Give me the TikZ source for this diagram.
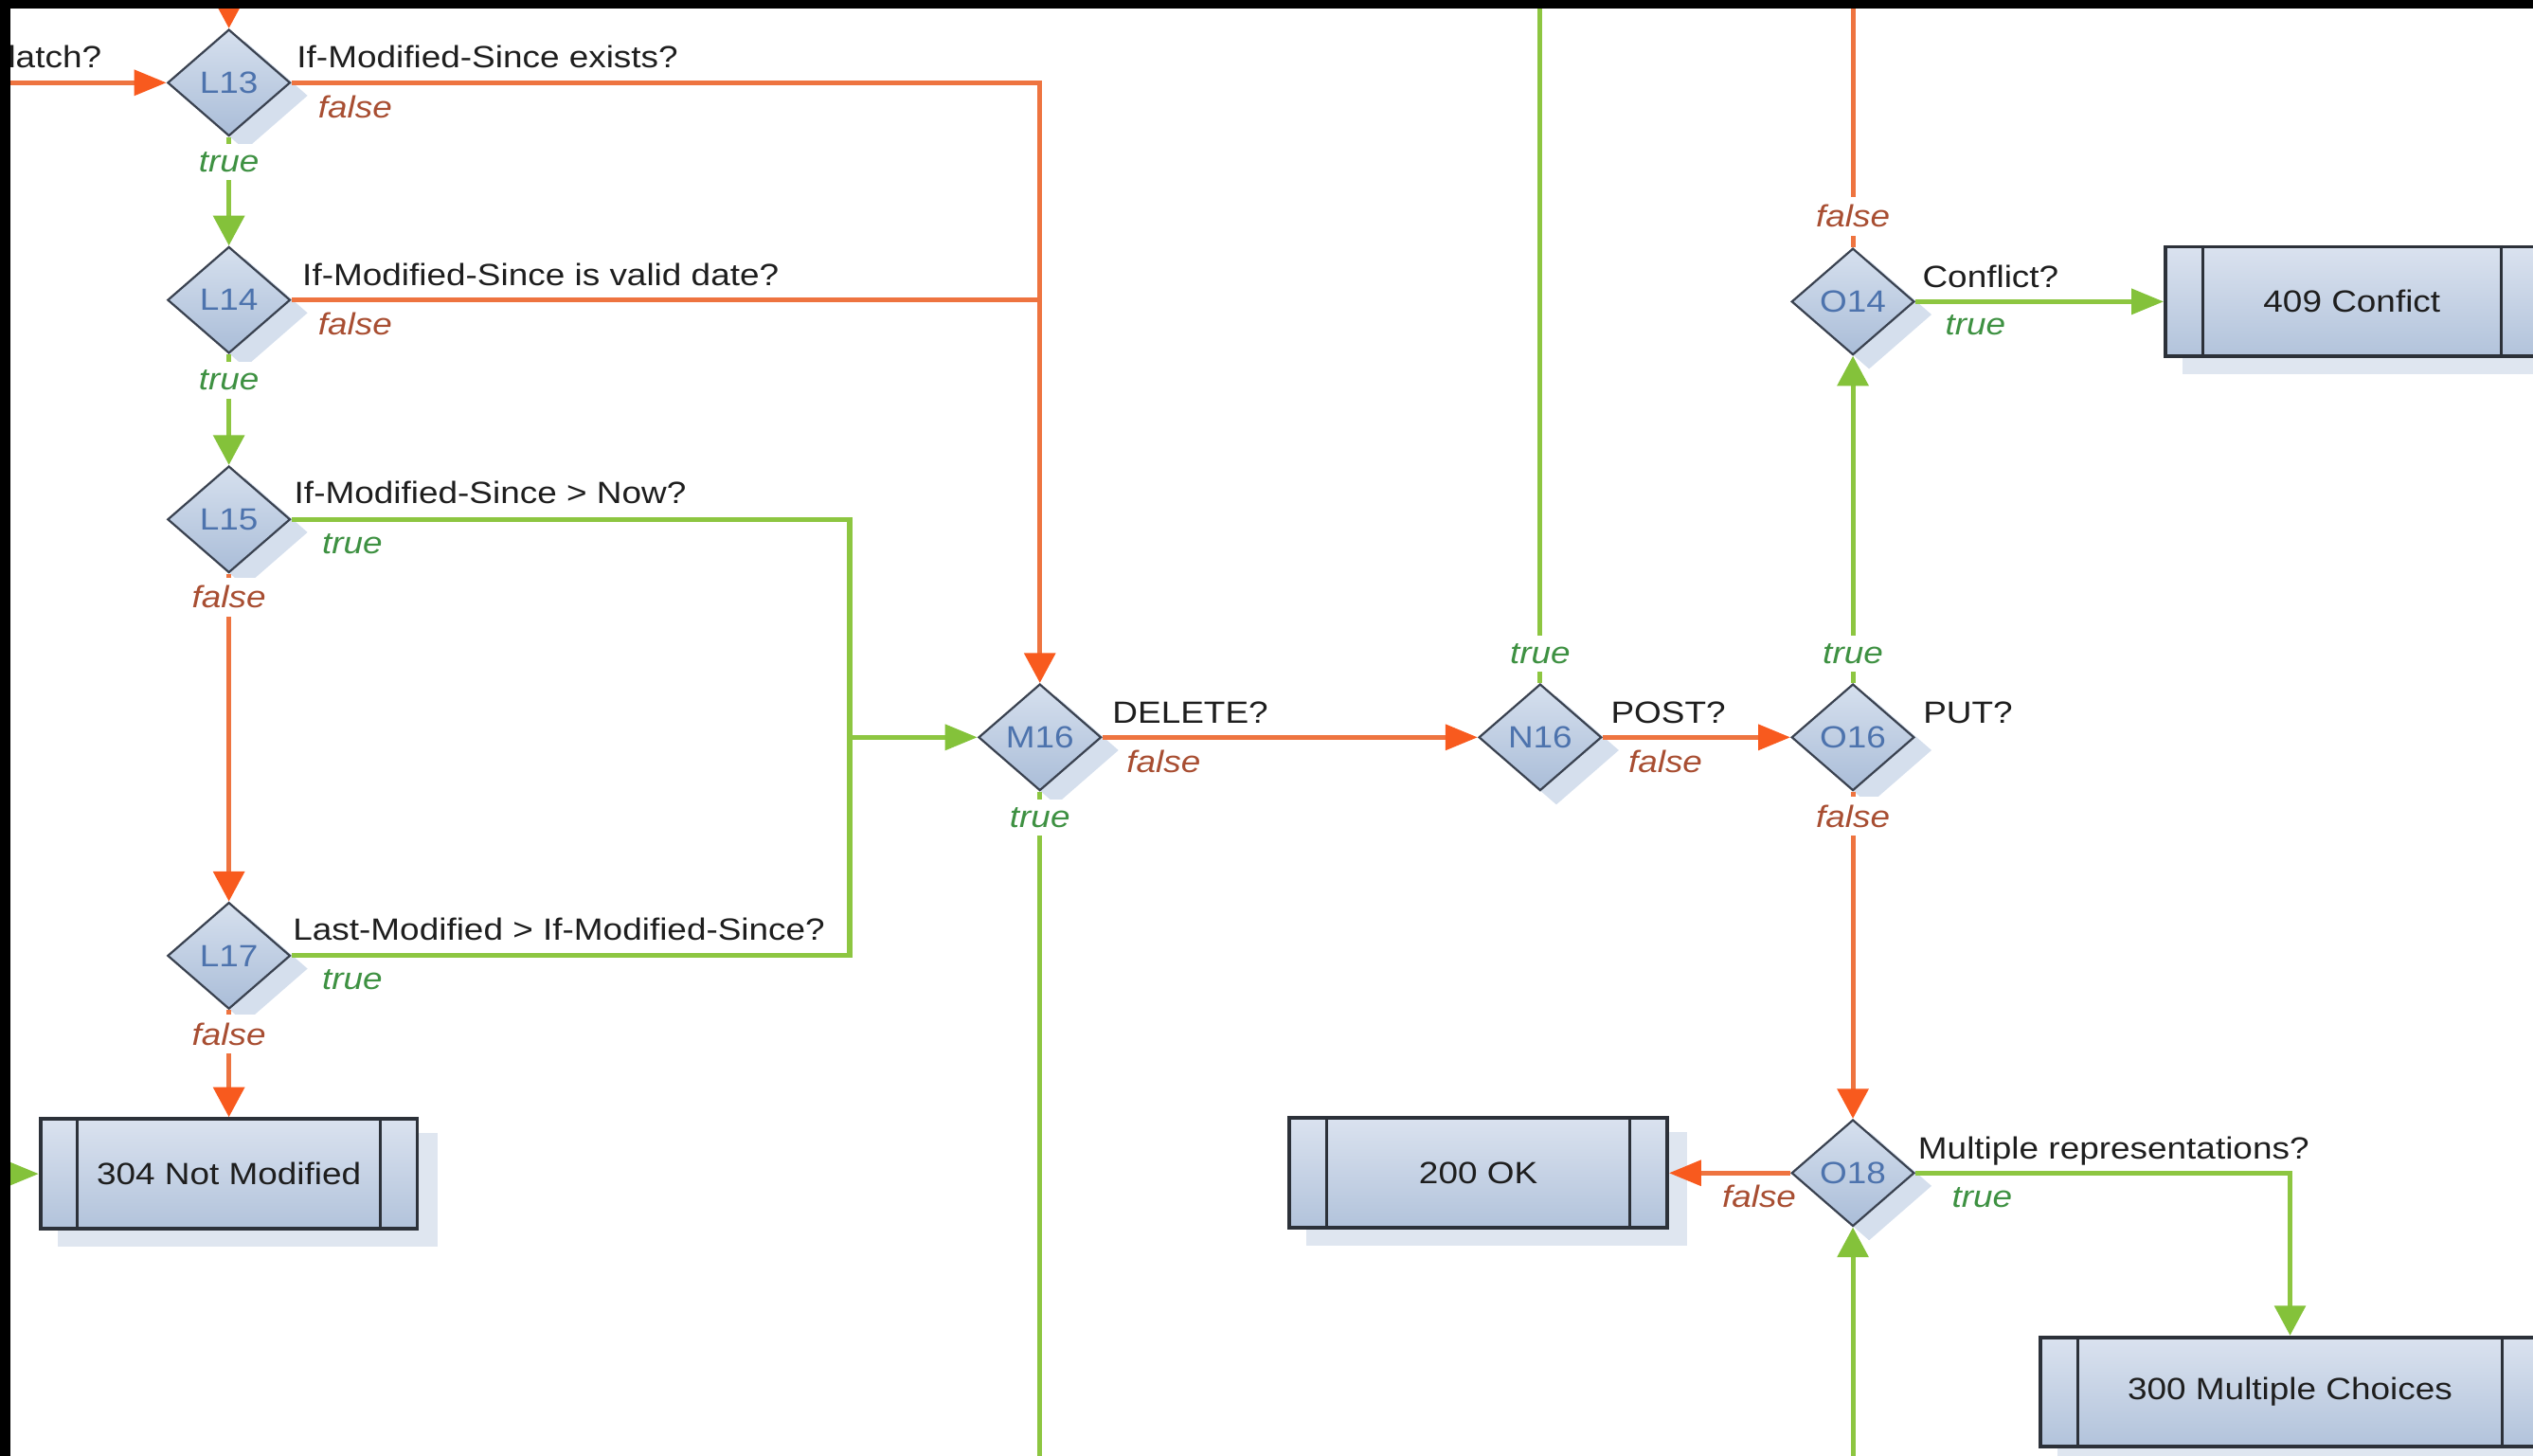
\documentclass[tikz,border=0pt]{standalone}
\usepackage{fontspec}
\setmainfont{Liberation Sans}[FakeStretch=1.14]
\usetikzlibrary{shapes.geometric,arrows.meta,calc,backgrounds}

\definecolor{lineO}{HTML}{EE7440}
\definecolor{tipO}{HTML}{F85A1E}
\definecolor{lineG}{HTML}{8DC641}
\definecolor{tipG}{HTML}{84C23A}
\definecolor{txtF}{HTML}{A84E32}
\definecolor{txtT}{HTML}{3E9142}
\definecolor{txtQ}{HTML}{1E1E1E}
\definecolor{idBlue}{HTML}{4D73AD}
\definecolor{edgeD}{HTML}{3A4250}
\definecolor{boxEdge}{HTML}{2C3139}
\definecolor{fillTop}{HTML}{D6E0EE}
\definecolor{fillBot}{HTML}{AABDD8}
\definecolor{boxTop}{HTML}{DAE2EF}
\definecolor{boxBot}{HTML}{B2C3DB}
\definecolor{shadeD}{HTML}{D5DFED}
\definecolor{shadeB}{HTML}{DFE6F0}

\begin{document}
\begin{tikzpicture}[x=1pt,y=-1pt,
  every node/.style={font=\fontsize{19}{22}\selectfont},
  decision/.style={diamond, draw=edgeD, line width=1.3pt,
    top color=fillTop, bottom color=fillBot,
    minimum width=76pt, minimum height=66pt, inner sep=0pt, text=idBlue},
  status/.style={rectangle, draw=boxEdge, line width=2.2pt,
    top color=boxTop, bottom color=boxBot,
    minimum height=68pt, inner sep=0pt, text=txtQ},
  question/.style={anchor=base west, inner sep=0pt, text=txtQ},
  nolabel/.style={anchor=base west, inner sep=0pt, text=txtF, font=\fontsize{19}{22}\selectfont\itshape},
  yeslabel/.style={anchor=base west, inner sep=0pt, text=txtT, font=\fontsize{19}{22}\selectfont\itshape},
  gapno/.style={anchor=base, fill=white, inner xsep=2pt, inner ysep=5pt, text=txtF, font=\fontsize{19}{22}\selectfont\itshape},
  gapyes/.style={anchor=base, fill=white, inner xsep=2pt, inner ysep=5pt, text=txtT, font=\fontsize{19}{22}\selectfont\itshape},
  ol/.style={draw=lineO, line width=3pt},
  gl/.style={draw=lineG, line width=3pt},
  ahO/.style={-{Triangle[length=20pt,width=15.5pt,color=tipO]}},
  avO/.style={-{Triangle[length=18.5pt,width=19pt,color=tipO]}},
  ahG/.style={-{Triangle[length=20pt,width=15.5pt,color=tipG]}},
  avG/.style={-{Triangle[length=18.5pt,width=19pt,color=tipG]}},
]
\useasboundingbox (0,0) rectangle (1568,901);

% ---------- decisions and status boxes ----------
\begin{scope}
\clip (0,0) rectangle (1568,901);
\node[decision] (L13) at (141.7,51.2)  {L13};
\node[decision] (L14) at (141.7,185.7) {L14};
\node[decision] (L15) at (141.7,321.5) {L15};
\node[decision] (L17) at (141.7,591.6) {L17};
\node[decision] (M16) at (643.7,456.4) {M16};
\node[decision] (N16) at (953.4,456.4) {N16};
\node[decision] (O16) at (1147,456.4)  {O16};
\node[decision] (O14) at (1147,186.7)  {O14};
\node[decision] (O18) at (1147,726.1)  {O18};

\node[status, minimum width=233.2pt] (s304) at (141.7,726.6) {304 Not Modified};
\node[status, minimum width=233.8pt] (s200) at (915.1,726.1) {200 OK};
\node[status, minimum width=230.8pt] (s409) at (1455.9,186.7) {409 Confict};
\node[status, minimum width=308.7pt, minimum height=67.6pt] (s300) at (1417.6,861.6) {300 Multiple Choices};

\foreach \n in {s304,s200,s409,s300} {
  \draw[boxEdge, line width=1.8pt] ($(\n.north west)+(24,0)$) -- ($(\n.south west)+(24,0)$);
  \draw[boxEdge, line width=1.8pt] ($(\n.north east)+(-24,0)$) -- ($(\n.south east)+(-24,0)$);
}
\end{scope}

% free ends of connectors at the picture edges
\coordinate (inL)   at (0,51.2);
\coordinate (inT)   at (141.7,0);
\coordinate (in304) at (0,726.6);
\coordinate (outM)  at (643.7,901);
\coordinate (outN)  at (953.4,0);
\coordinate (outO)  at (1147,0);
\coordinate (inO18) at (1147,901);
\coordinate (cj)    at (526,456.4);

% ---------- shadows, connectors and branch labels ----------
\begin{pgfonlayer}{background}
\clip (0,0) rectangle (1568,901);
\foreach \n in {L13,L14,L15,L17,M16,N16,O16,O14,O18}
  \fill[shadeD] ($(\n.north)+(10,8)$) -- ($(\n.east)+(10,8)$) -- ($(\n.south)+(10,8)$) -- ($(\n.west)+(10,8)$) -- cycle;
\foreach \n in {s304,s200,s409,s300}
  \fill[shadeB] ($(\n.north west)+(11.5,10)$) rectangle ($(\n.south east)+(11.5,10)$);

\draw[ol, ahO] (inL) -- (L13.west);
\draw[ol, avO] (inT) -- (L13.north);
\draw[ol, avO] (L13.east) -| (M16.north);
\draw[ol] (L14.east) -- (L14.east -| M16.north);
\draw[gl, avG] (L13.south) -- (L14.north);
\draw[gl, avG] (L14.south) -- (L15.north);
\draw[ol, avO] (L15.south) -- (L17.north);
\draw[ol, avO] (L17.south) -- (s304.north);
\draw[gl] (L15.east) -| (cj);
\draw[gl] (L17.east) -| (cj);
\draw[gl, ahG] (cj) -- (M16.west);
\draw[gl, ahG] (in304) -- (s304.west);
\draw[ol, ahO] (M16.east) -- (N16.west);
\draw[gl] (M16.south) -- (outM);
\draw[gl] (N16.north) -- (outN);
\draw[ol, ahO] (N16.east) -- (O16.west);
\draw[gl, avG] (O16.north) -- (O14.south);
\draw[ol, avO] (O16.south) -- (O18.north);
\draw[ol] (O14.north) -- (outO);
\draw[gl, ahG] (O14.east) -- (s409.west);
\draw[ol, ahO] (O18.west) -- (s200.east);
\draw[gl, avG] (O18.east) -| (s300.north);
\draw[gl, avG] (inO18) -- (O18.south);

% labels sitting in gaps of vertical connectors
\node[gapyes] (tL13) at (141.7,106.5) {true};
\node[gapyes] (tL14) at (141.7,241.5) {true};
\node[gapno]  (fL15) at (141.7,376.3) {false};
\node[gapno]  (fL17) at (141.7,646.8) {false};
\node[gapyes] (tM16) at (643.7,512)   {true};
\node[gapyes] (tN16) at (953.4,410.5) {true};
\node[gapyes] (tO16) at (1147,410.5)  {true};
\node[gapno]  (fO16) at (1147,512)    {false};
\node[gapno]  (fO14) at (1147,140.7)  {false};
\end{pgfonlayer}

% ---------- questions ----------
\node[question] (qK13) at (4.8,42)      {latch?};
\node[question] (qL13) at (183.6,42)    {If-Modified-Since exists?};
\node[question] (qL14) at (187,176.9)   {If-Modified-Since is valid date?};
\node[question] (qL15) at (182,311.8)   {If-Modified-Since > Now?};
\node[question] (qL17) at (181.2,582)   {Last-Modified > If-Modified-Since?};
\node[question] (qM16) at (688.5,447.6) {DELETE?};
\node[question] (qN16) at (997,447.6)   {POST?};
\node[question] (qO16) at (1190.3,447.6) {PUT?};
\node[question] (qO14) at (1189.9,177.9) {Conflict?};
\node[question] (qO18) at (1187.2,717.3) {Multiple representations?};

% ---------- branch labels beside horizontal connectors ----------
\node[nolabel]  (fL13) at (196.7,73.3)  {false};
\node[nolabel]  (fL14) at (196.7,207.5) {false};
\node[yeslabel] (tL15) at (199.2,343)   {true};
\node[yeslabel] (tL17) at (199.2,612.4) {true};
\node[nolabel]  (fM16) at (697.2,478)   {false};
\node[nolabel]  (fN16) at (1007.8,478)  {false};
\node[yeslabel] (tO14) at (1204,207.2)  {true};
\node[yeslabel] (tO18) at (1208.1,747.6) {true};
\node[nolabel, anchor=base east] (fO18) at (1112,747.6) {false};

% ---------- frame edges ----------
\fill[black] (0,0) rectangle (1568,5.3);
\fill[black] (0,0) rectangle (6.5,901);
\end{tikzpicture}
\end{document}
